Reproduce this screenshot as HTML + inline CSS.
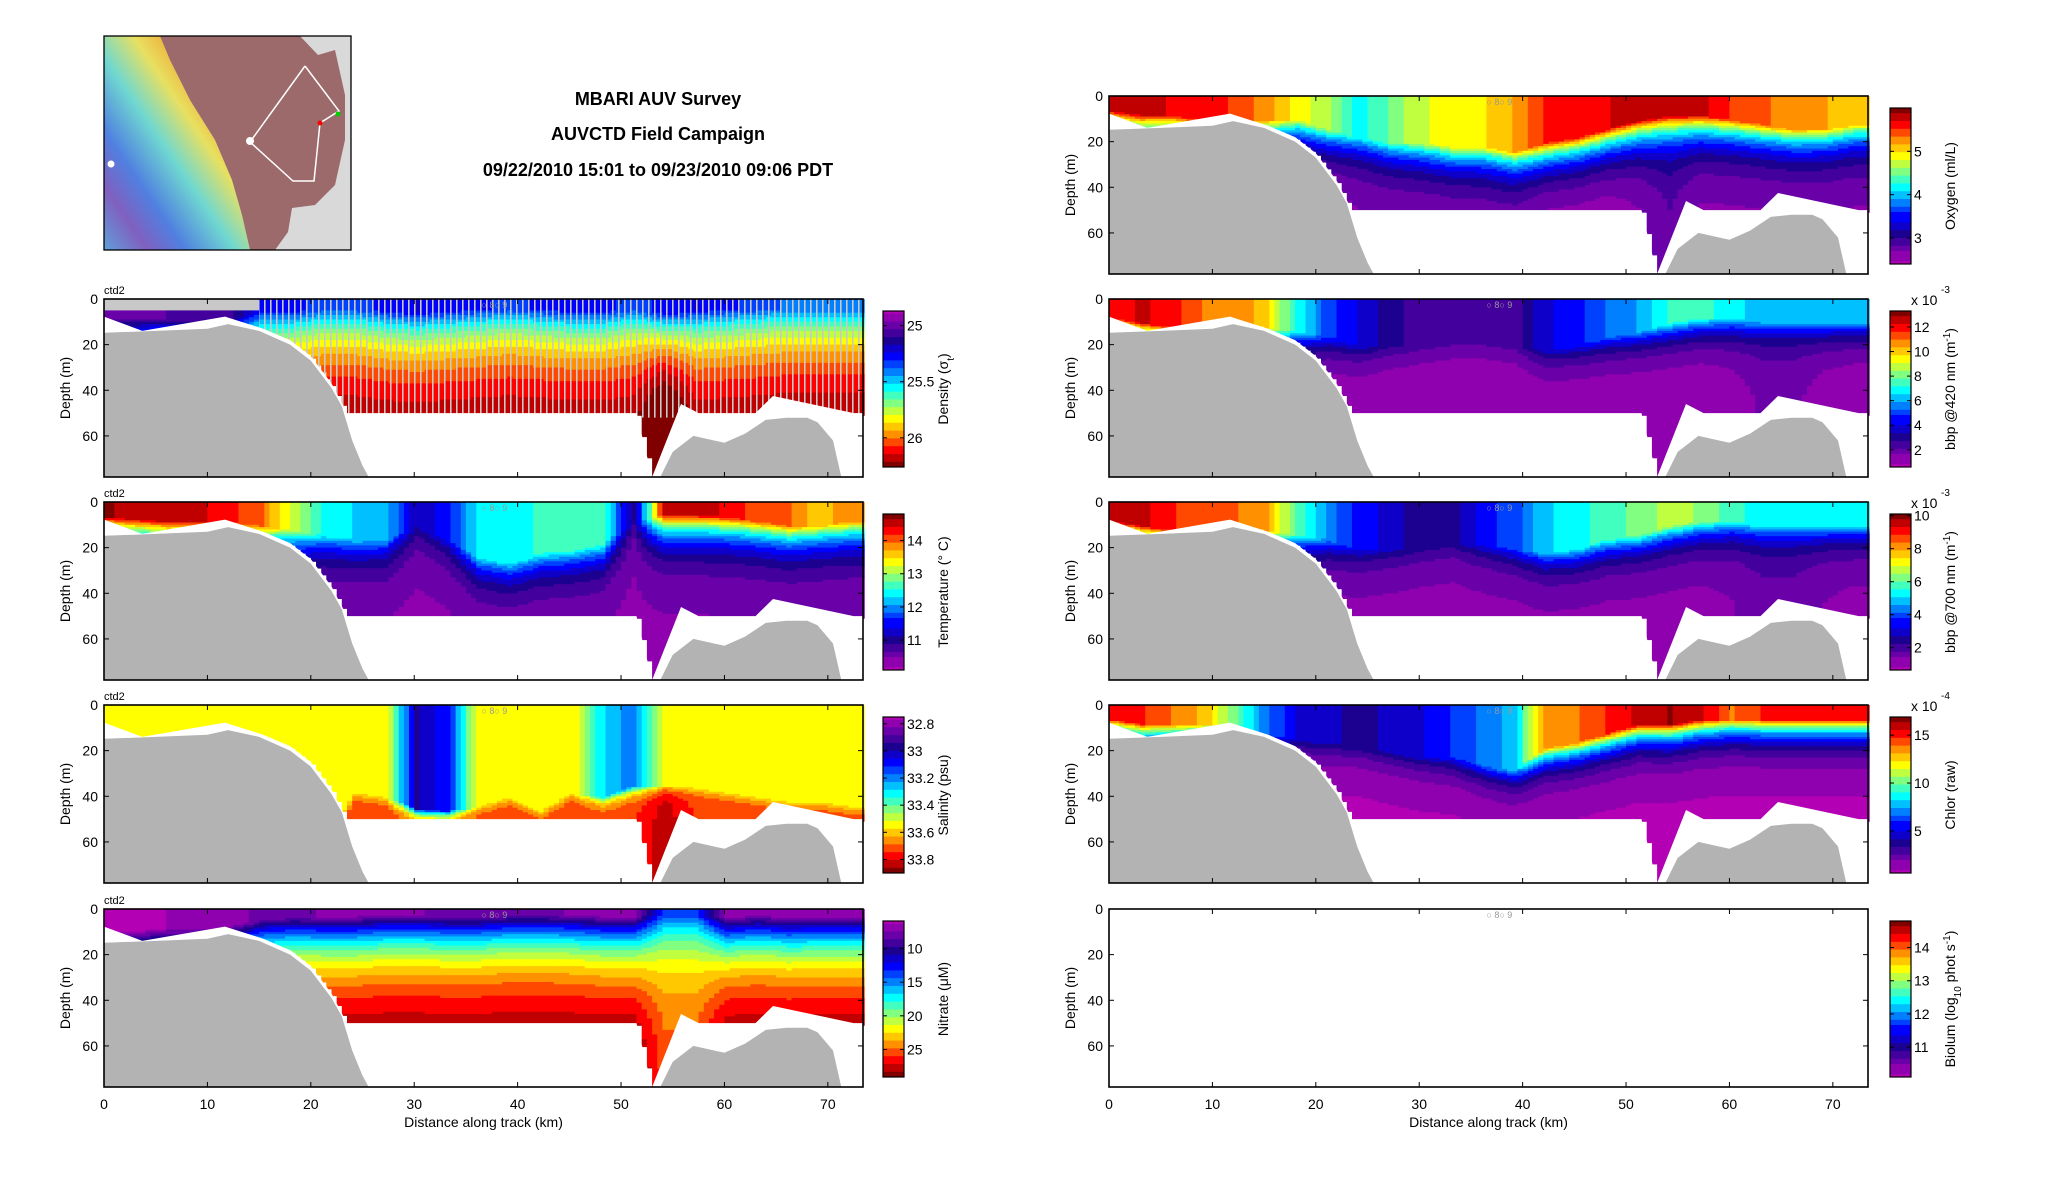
<!DOCTYPE html>
<html><head><meta charset="utf-8"><style>
body{margin:0;background:#fff}
svg text{font-family:"Liberation Sans",sans-serif}
</style></head><body>
<svg id="fig" xmlns="http://www.w3.org/2000/svg" width="2052" height="1188" viewBox="0 0 2052 1188">
<rect width="2052" height="1188" fill="#fff"/>
<defs>
<linearGradient id="landGrad" x1="1" y1="0" x2="0" y2="1">
<stop offset="0" stop-color="#e04020"/><stop offset="0.25" stop-color="#f0a030"/><stop offset="0.4" stop-color="#e8e060"/><stop offset="0.55" stop-color="#70d8d0"/><stop offset="0.72" stop-color="#5080e0"/><stop offset="0.85" stop-color="#8060c0"/><stop offset="1" stop-color="#60a0d8"/>
</linearGradient>
<pattern id="stripes" width="6" height="10" patternUnits="userSpaceOnUse"><rect x="0" y="0" width="1.6" height="10" fill="#c8c8c8"/></pattern>
</defs>
<g>
<rect x="104" y="36" width="247" height="214" fill="#d9d9d9"/>
<polygon points="104,36 175,36 170,60 190,100 215,140 232,180 242,215 250,250 104,250" fill="url(#landGrad)"/>
<polygon points="160,36 300,36 318,55 335,50 345,95 345,140 335,185 315,205 292,208 288,232 275,250 250,250 242,215 232,180 215,140 190,100 170,60" fill="#9c6a6a"/>
<polyline points="305,66 339,111 320,123 314,181 293,181 250,142 305,66" fill="none" stroke="#fff" stroke-width="1.5"/>
<circle cx="320" cy="123" r="2.5" fill="#f00"/><circle cx="338" cy="114" r="2.5" fill="#0c0"/>
<circle cx="250" cy="141" r="4" fill="#fff"/><circle cx="111" cy="164" r="3.5" fill="#fff"/>
<rect x="104" y="36" width="247" height="214" fill="none" stroke="#000" stroke-width="1.3"/>
</g>
<g font-weight="bold" font-size="18" text-anchor="middle">
<text x="658" y="105">MBARI AUV Survey</text>
<text x="658" y="140">AUVCTD Field Campaign</text>
<text x="658" y="176">09/22/2010 15:01 to 09/23/2010 09:06 PDT</text>
</g>
<g id="panels"></g>
</svg>
<script>
// ---- shared data ----
const xs=[0,3,6,9,12,15,18,21,24,27,30,33,36,39,42,45,48,51,54,57,60,63,66,69,72];
const bathyX=[0,5,10,12,15,18,20,22,23,24,25,25.6,25.7,53.7,53.8,55,57,59,60,62,64,66,68,69,70.5,71.3,71.4,73.4];
const bathyZ=[14.8,14,13,11,14,20,27,39,47,62,73,78,79,79,78,67,60,62,63,59,53,52,52,54,62,78,79,79];
const dataBotX=[0,3.7,11.7,15.4,18,20,22,23.5,51.5,53,55.8,57.5,63,64.7,72.5,73.4];
const dataBotZ=[7.7,14,7.7,13,18,25,37,50,50,78,46,50,50,42.5,50,50];
const xTicks=[0,10,20,30,40,50,60,70];
const yTicks=[0,20,40,60];
// ---- density ----
const densSurf=[25.0,25.0,25.05,25.05,25.1,25.3,25.3,25.35,25.35,25.3,25.25,25.3,25.3,25.35,25.3,25.3,25.3,25.35,25.3,25.25,25.3,25.35,25.4,25.4,25.4];
const densMld=[8,8,8,8,8,5,5,4,4,5,5,5,4,4,4,5,5,4,6,4,4,4,4,4,4];
const densDeep=[26.3,26.3,26.3,26.3,26.3,26.3,26.3,26.3,26.3,26.3,26.3,26.3,26.3,26.3,26.3,26.3,26.3,26.3,26.5,26.3,26.3,26.3,26.3,26.3,26.3];
// ---- temperature ----
const tempSurf=[14.7,14.6,14.6,14.5,14.3,14.0,13.2,12.5,12.3,12.2,11.2,11.5,12.4,12.5,12.6,12.8,12.7,11.0,14.6,14.6,14.4,14.1,14.0,13.6,13.9];
const tempMld=[6,7,8,8,8,10,12,14,16,16,10,16,24,26,22,20,18,8,5,5,6,8,10,10,8];
const tempDeep=[10.4,10.4,10.4,10.4,10.4,10.4,10.4,10.4,10.4,10.4,10.4,10.4,10.4,10.4,10.4,10.4,10.4,10.4,10.4,10.4,10.4,10.4,10.4,10.4,10.4];
// ---- salinity ----
const salSurf=[33.58,33.58,33.58,33.58,33.58,33.58,33.58,33.58,33.58,33.58,33.0,33.1,33.58,33.58,33.58,33.58,33.3,33.2,33.58,33.58,33.58,33.58,33.58,33.58,33.58];
const salMld=[60,60,60,60,60,60,60,60,38,40,45,46,44,40,46,38,40,35,35,36,38,40,42,42,44];
const salDeep=[33.75,33.75,33.75,33.75,33.75,33.75,33.75,33.75,33.75,33.75,33.75,33.75,33.75,33.75,33.75,33.75,33.75,33.75,33.85,33.75,33.75,33.75,33.75,33.75,33.75];
// ---- nitrate ----
const nitSurf=[6,6,6.5,6.5,7,8,8,7.5,7.5,7.5,7.5,8,8,8,8,7.5,7.5,7.5,14,14,7,7,7,7.5,7.5];
const nitMld=[9,9,8,8,7,4,3,3,3,2,2,3,3,2,2,2,3,3,2,2,3,2,3,3,3];
const nitDeep=[30,30,30,30,30,30,30,30,30,30,30,30,30,30,30,30,30,30,26,26,30,30,30,30,30];
// ---- oxygen ----
const oxySurf=[5.8,5.8,5.7,5.7,5.5,5.3,4.9,4.7,4.2,4.5,4.8,4.9,5.0,5.2,5.6,5.6,5.7,5.9,5.9,5.8,5.5,5.4,5.3,5.2,5.1];
const oxyMld=[6,8,8,10,10,10,10,14,18,20,20,22,22,24,20,18,14,10,8,8,10,12,14,14,12];
const oxyDeep=[2.5,2.5,2.5,2.5,2.5,2.5,2.5,2.5,2.6,2.6,2.6,2.6,2.6,2.6,2.5,2.5,2.5,2.6,2.8,2.6,2.6,2.6,2.6,2.6,2.6];
// ---- bbp420 ----
const b420Surf=[12,12.5,12,11,11,10,7,5,4,3,2.5,2.5,2.5,2.5,4,4.5,5.5,6,7.5,7.5,7,6,6,6,6];
const b420Mld=[8,10,12,12,10,12,14,16,20,20,20,18,18,20,22,20,16,14,10,8,8,10,10,10,10];
const b420Deep=[1,1,1,1,1,1,1,1,1,1,1,1,1,1,1,1,1,1,1,1,1.2,1.6,1.6,1.2,1];
// ---- bbp700 ----
const b700Surf=[9.5,9.5,9,8.5,8.5,8,6,4.5,3.5,3,2.5,2.5,3.5,4,5,5.5,5.8,6.3,6.8,6.5,5.8,5.3,5.3,5.3,5.3];
const b700Mld=[8,10,12,12,10,12,14,16,20,20,20,18,18,20,22,20,16,14,10,8,8,10,10,10,10];
const b700Deep=[1.2,1.2,1.2,1.2,1.2,1.2,1.2,1.2,1.2,1.2,1.2,1.2,1.2,1.2,1.2,1.2,1.2,1.2,1.2,1.2,1.3,1.6,1.6,1.3,1.2];
// ---- chlorophyll ----
const chlSurf=[15,15,14,13,10,7,5,4.5,4,4.5,5,6,7,8,14,14,15,16,16.5,16,14,15,15,15,15];
const chlMld=[6,8,8,8,8,12,14,16,18,20,22,22,26,28,18,16,12,8,8,6,6,6,6,6,6];
const chlDeep=[0.8,0.8,0.8,0.8,0.8,0.8,0.8,0.8,0.8,0.8,0.8,0.8,0.8,0.8,0.8,0.8,0.8,0.8,0.8,0.8,0.8,0.8,0.8,0.8,0.8];

const panels=[
 {id:'density',col:0,row:1,vmin:24.87,vmax:26.26,flip:true,surf:densSurf,mld:densMld,deep:densDeep,th:20,cbTicks:[25,25.5,26],label:'Density (σ',sub:'t',after:')'},
 {id:'temperature',col:0,row:2,vmin:10.1,vmax:14.8,surf:tempSurf,mld:tempMld,deep:tempDeep,th:10,cbTicks:[11,12,13,14],label:'Temperature (° C)'},
 {id:'salinity',col:0,row:3,vmin:32.75,vmax:33.9,flip:true,surf:salSurf,mld:salMld,deep:salDeep,th:3,cbTicks:[32.8,33,33.2,33.4,33.6,33.8],label:'Salinity (psu)'},
 {id:'nitrate',col:0,row:4,vmin:5.9,vmax:29.1,flip:true,surf:nitSurf,mld:nitMld,deep:nitDeep,th:20,cbTicks:[10,15,20,25],label:'Nitrate (μM)'},
 {id:'oxygen',col:1,row:0,vmin:2.4,vmax:6.0,surf:oxySurf,mld:oxyMld,deep:oxyDeep,th:10,cbTicks:[3,4,5],label:'Oxygen (ml/L)'},
 {id:'bbp420',col:1,row:1,vmin:0.6,vmax:13.3,surf:b420Surf,mld:b420Mld,deep:b420Deep,th:8,cbTicks:[2,4,6,8,10,12],label:'bbp @420 nm (m',sup:'-1',after:')',exp:'-3'},
 {id:'bbp700',col:1,row:2,vmin:0.65,vmax:10.1,surf:b700Surf,mld:b700Mld,deep:b700Deep,th:8,cbTicks:[2,4,6,8,10],label:'bbp @700 nm (m',sup:'-1',after:')',exp:'-3'},
 {id:'chlorophyll',col:1,row:3,vmin:0.6,vmax:16.9,surf:chlSurf,mld:chlMld,deep:chlDeep,th:8,cbTicks:[5,10,15],label:'Chlor (raw)',exp:'-4'},
 {id:'biolum',col:1,row:4,vmin:10.1,vmax:14.8,empty:true,cbTicks:[11,12,13,14],label:'Biolum (log',sub:'10',after:' phot s',sup2:'-1',after2:')'}
];
const NS='http://www.w3.org/2000/svg';
const colX=[104,1109], PW=759, rowY=[96,299,502,705,909], PH=178, XMAX=73.4, ZMAX=78;
const cbX=[883,1890];
const stops=[[0,[180,0,180]],[0.1,[106,0,168]],[0.2,[28,0,144]],[0.3,[0,0,255]],[0.4,[0,128,255]],[0.5,[0,255,255]],[0.6,[128,255,128]],[0.7,[255,255,0]],[0.8,[255,144,0]],[0.9,[255,0,0]],[1,[128,0,0]]];
function cmap(t){t=Math.max(0,Math.min(1,t));t=Math.round(t*20)/20;
 for(let i=1;i<stops.length;i++){if(t<=stops[i][0]+1e-9){const a=stops[i-1],b=stops[i],f=(t-a[0])/(b[0]-a[0]);
 return 'rgb('+a[1].map((c,k)=>Math.round(c+(b[1][k]-c)*f)).join(',')+')';}}return 'rgb(128,0,0)';}
function lin(X,Y,x){if(x<=X[0])return Y[0];for(let i=1;i<X.length;i++)if(x<=X[i]){const f=(x-X[i-1])/(X[i]-X[i-1]);return Y[i-1]+(Y[i]-Y[i-1])*f;}return Y[Y.length-1];}
function mk(tag,attrs,parent){const e=document.createElementNS(NS,tag);for(const k in attrs)e.setAttribute(k,attrs[k]);parent.appendChild(e);return e;}
const root=document.getElementById('panels');
panels.forEach(p=>{
 const x0=colX[p.col], y0=rowY[p.row];
 const sx=x=>x0+x/XMAX*PW, sz=z=>y0+z/ZMAX*PH;
 const g=mk('g',{},root);
 
 
 if(!p.empty){
  const cells=mk('g',{},g);
  
  
  const step=0.5;
  for(let x=0;x<XMAX;x+=step){
   const surf=lin(xs,p.surf,x),mld=lin(xs,p.mld,x),deep=lin(xs,p.deep,x);
   const bot=Math.min(ZMAX,lin(dataBotX,dataBotZ,x)+1);
   let runStart=0,runCol=null;
   const flush=(zEnd)=>{if(runCol===null)return;const r=mk('rect',{x:sx(x).toFixed(1),y:sz(runStart).toFixed(1),width:(PW*step/XMAX+0.6).toFixed(1),height:(sz(zEnd)-sz(runStart)+0.4).toFixed(1),fill:runCol},cells);
     
     };
   for(let z=0;z<bot;z+=1){
    const v= z<mld?surf: deep+(surf-deep)*Math.exp(-(z-mld)/p.th);
    const c=cmap((v-p.vmin)/(p.vmax-p.vmin));
    if(c!==runCol){flush(z);runStart=z;runCol=c;}
   }
   flush(bot);
  }
  if(p.id==='density'){
   const gt=mk('rect',{x:sx(0),y:sz(0),width:sx(15)-sx(0),height:sz(5)-sz(0),fill:'#c8c8c8'},g);
   
   
   const st=mk('rect',{x:sx(15),y:sz(0),width:sx(XMAX)-sx(15),height:sz(52)-sz(0),fill:'url(#stripes)'},g);
   
   
  }
  let pts=dataBotX.map((x,i)=>sx(x).toFixed(1)+','+sz(dataBotZ[i]).toFixed(1));
  pts.push(sx(XMAX)+','+sz(ZMAX+1),sx(0)+','+sz(ZMAX+1));
  const w=mk('polygon',{points:pts.join(' '),fill:'#fff'},g);
  
  
  let bp=bathyX.map((x,i)=>sx(x).toFixed(1)+','+sz(Math.min(ZMAX,bathyZ[i])).toFixed(1));
  bp.push(sx(XMAX)+','+sz(ZMAX),sx(0)+','+sz(ZMAX));
  const b=mk('polygon',{points:bp.join(' '),fill:'#b3b3b3'},g);
  
  
 }
 const fr=mk('rect',{x:x0,y:y0,width:PW,height:PH,fill:'none',stroke:'#000','stroke-width':1.6},g);
 
 
 const ax=mk('g',{'font-size':14},g);
 
 
 xTicks.forEach(t=>{mk('line',{x1:sx(t),x2:sx(t),y1:y0,y2:y0+5,stroke:'#000'},ax);mk('line',{x1:sx(t),x2:sx(t),y1:y0+PH,y2:y0+PH-5,stroke:'#000'},ax);
  if(p.row===4){const tl=mk('text',{x:sx(t),y:y0+PH+22,'text-anchor':'middle'},ax);tl.textContent=t;
   
   }});
 yTicks.forEach(t=>{mk('line',{x1:x0,x2:x0+5,y1:sz(t),y2:sz(t),stroke:'#000'},ax);mk('line',{x1:x0+PW,x2:x0+PW-5,y1:sz(t),y2:sz(t),stroke:'#000'},ax);
  const tl=mk('text',{x:x0-6,y:sz(t)+5,'text-anchor':'end'},ax);tl.textContent=t;
  
  });
 const yl=mk('text',{x:0,y:0,'text-anchor':'middle',transform:`translate(${x0-34},${y0+PH/2}) rotate(-90)`},ax);yl.textContent='Depth (m)';
 
 
 if(p.row===4){const xl=mk('text',{x:x0+PW/2,y:y0+PH+40,'text-anchor':'middle'},ax);xl.textContent='Distance along track (km)';
  
  }
 if(p.col===0){const c2=mk('text',{x:x0,y:y0-5,'font-size':11},ax);c2.textContent='ctd2';
  
  }
 const mk9=mk('text',{x:sx(36.5),y:y0+9,'font-size':9,fill:'#999'},ax);mk9.textContent='○ 8○ 9';
 
 
 const cbx=cbX[p.col], cby0=y0+12, cby1=y0+168, cbw=21;
 const cb=mk('g',{'font-size':14},g);
 
 
 const N=60;
 for(let i=0;i<N;i++){let t=(i+0.5)/N; if(!p.flip)t=1-t;
  mk('rect',{x:cbx,y:cby0+(cby1-cby0)*i/N,width:cbw,height:(cby1-cby0)/N+0.5,fill:cmap(t)},cb);}
 mk('rect',{x:cbx,y:cby0,width:cbw,height:cby1-cby0,fill:'none',stroke:'#000','stroke-width':1.2},cb);
 const cy=v=>{const f=(v-p.vmin)/(p.vmax-p.vmin);return p.flip?cby0+f*(cby1-cby0):cby1-f*(cby1-cby0);};
 p.cbTicks.forEach(v=>{const yy=cy(v);mk('line',{x1:cbx,x2:cbx+4,y1:yy,y2:yy,stroke:'#000'},cb);mk('line',{x1:cbx+cbw,x2:cbx+cbw-4,y1:yy,y2:yy,stroke:'#000'},cb);
  const tl=mk('text',{x:cbx+cbw+3,y:yy+5},cb);tl.textContent=v;
  
  });
 const lab=mk('text',{x:0,y:0,'text-anchor':'middle',transform:`translate(${cbx+cbw+44},${(cby0+cby1)/2}) rotate(-90)`},cb);
 
 
 lab.appendChild(document.createTextNode(p.label));
 if(p.sub){const s=mk('tspan',{'baseline-shift':'sub','font-size':10},lab);s.textContent=p.sub;}
 if(p.sup){const s=mk('tspan',{'baseline-shift':'super','font-size':10},lab);s.textContent=p.sup;}
 if(p.after){lab.appendChild(document.createTextNode(p.after));}
 if(p.sup2){const s=mk('tspan',{'baseline-shift':'super','font-size':10},lab);s.textContent=p.sup2;}
 if(p.after2){lab.appendChild(document.createTextNode(p.after2));}
 if(p.exp){const e=mk('text',{x:cbx+cbw,y:cby0-6,'font-size':14},cb);e.textContent='x 10';
  
  
  const e2=mk('text',{x:cbx+cbw+30,y:cby0-18,'font-size':10},cb);e2.textContent=p.exp;
  
  }
});
</script>
</body></html>
